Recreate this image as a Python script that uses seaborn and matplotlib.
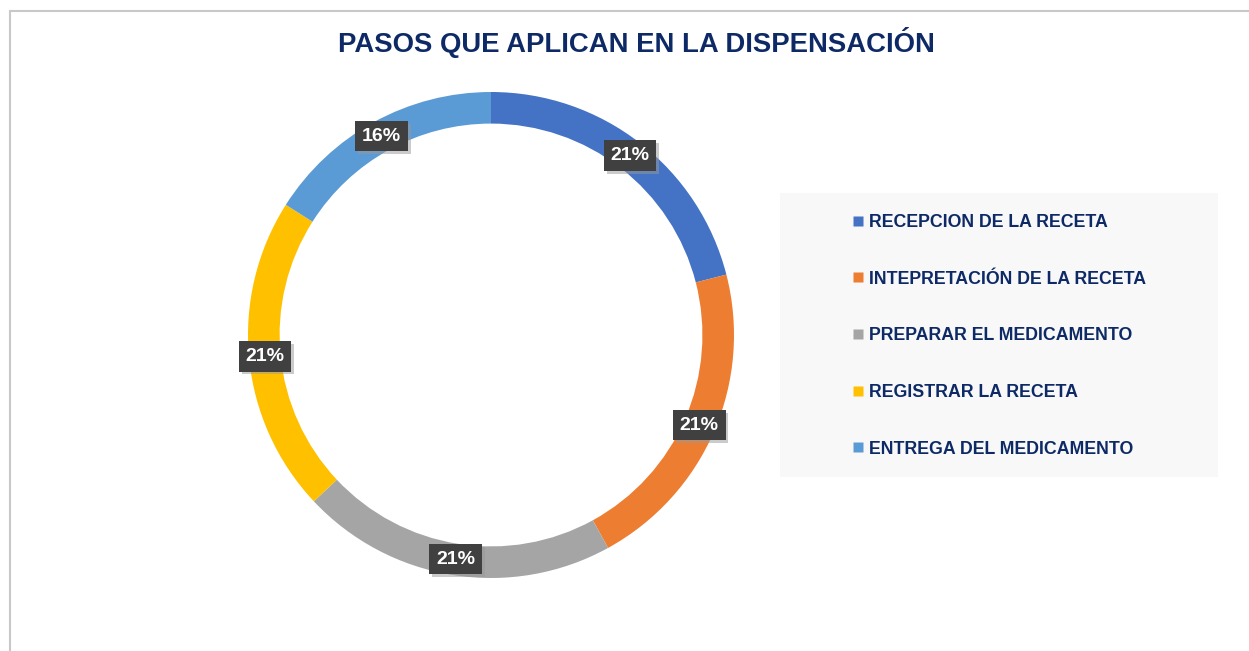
import matplotlib
matplotlib.use("Agg")
import matplotlib.pyplot as plt
import matplotlib.patheffects as pe
from matplotlib.patches import Rectangle
from matplotlib.lines import Line2D
import numpy as np
import seaborn as sns

# datos del grafico
pasos = ['RECEPCION DE LA RECETA', 'INTEPRETACIÓN DE LA RECETA', 'PREPARAR EL MEDICAMENTO',
         'REGISTRAR LA RECETA', 'ENTREGA DEL MEDICAMENTO']
porcentajes = [21, 21, 21, 21, 16]
colores = ['#4472C4', '#ED7D31', '#A5A5A5', '#FFC000', '#5B9BD5']

sns.set_theme(style='white')
plt.rcParams['font.family'] = ['Liberation Sans', 'DejaVu Sans']
navy = '#0E2A66'

fig = plt.figure(figsize=(12.49, 6.51), dpi=100)
W, H = 1249, 651

# borde gris
fig.add_artist(Line2D([10 / W, 1], [1 - 11 / H, 1 - 11 / H], color='#C8C8C8', lw=1.5))
fig.add_artist(Line2D([10 / W, 10 / W], [0, 1 - 11 / H], color='#C8C8C8', lw=1.5))

fig.text(636 / W, 1 - 42 / H, 'PASOS QUE APLICAN EN LA DISPENSACIÓN', ha='center', va='center',
         fontsize=19.8, fontweight='bold', color=navy)

# dona
ax = fig.add_axes([248 / W, 1 - 578 / H, 486 / W, 486 / H])
wedges, _ = ax.pie(porcentajes, colors=colores, startangle=90, counterclock=False, radius=1,
                   wedgeprops=dict(width=0.13, edgecolor='white', linewidth=0))
ax.set_xlim(-1, 1)
ax.set_ylim(-1, 1)
ax.set_aspect('equal')
ax.axis('off')

total = sum(porcentajes)
acum = 0
for v in porcentajes:
    mid = (acum + v / 2) / total * 2 * np.pi
    acum += v
    r = 0.934
    x, y = r * np.sin(mid), r * np.cos(mid)
    t = ax.text(x, y, f'{v}%', ha='center', va='center', fontsize=14, fontweight='bold', color='white',
                bbox=dict(boxstyle='square,pad=0.35', facecolor='#404040', edgecolor='none'))
    t.get_bbox_patch().set_path_effects([pe.withSimplePatchShadow(offset=(2, -2), shadow_rgbFace='#999999',
                                                                  alpha=0.5), pe.Normal()])

# leyenda
fig.add_artist(Rectangle((780 / W, 1 - 477 / H), 438 / W, 284 / H, transform=fig.transFigure,
                         facecolor='#F8F8F8', edgecolor='none', zorder=0))
handles = [Line2D([], [], marker='s', linestyle='none', markersize=7, markerfacecolor=c,
                  markeredgecolor='none') for c in colores]
leg = fig.legend(handles, pasos, loc='upper left', bbox_to_anchor=(853 / W, 1 - 214 / H),
                 frameon=False, fontsize=12.8, labelspacing=2.23, handlelength=0.6,
                 handletextpad=0.3, borderpad=0, borderaxespad=0)
for txt in leg.get_texts():
    txt.set_color(navy)
    txt.set_fontweight('bold')

fig.savefig('out.png', dpi=100, facecolor='white')
